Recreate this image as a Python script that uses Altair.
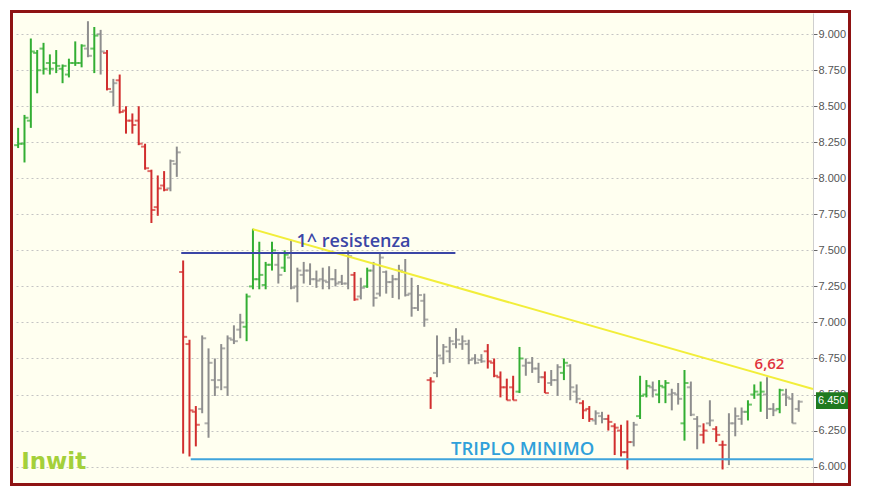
import altair as alt
import pandas as pd

# ---- OHLC data (bar order left to right) ----
high = [8.35, 8.44, 8.97, 8.89, 8.94, 8.86, 8.89, 8.79, 8.83, 8.95, 8.93, 9.09, 9.05, 9.03, 8.89, 8.69,
        8.72, 8.50, 8.45, 8.50, 8.24, 8.06, 8.02, 8.05, 8.13, 8.22,
        7.43, 6.88, 6.42, 6.91, 6.82, 6.75, 6.85, 6.91, 6.98, 7.06, 7.20, 7.65, 7.56, 7.42, 7.56, 7.48,
        7.50, 7.57, 7.38, 7.42, 7.41, 7.36, 7.38, 7.39, 7.37, 7.33, 7.50, 7.35, 7.31, 7.38, 7.42, 7.48,
        7.36, 7.33, 7.40, 7.44, 7.31, 7.26, 7.20,
        6.62, 6.91, 6.85, 6.90, 6.96, 6.91, 6.88, 6.78, 6.78, 6.85, 6.75, 6.66, 6.61, 6.63, 6.83, 6.75,
        6.76, 6.72, 6.66, 6.67, 6.71, 6.75, 6.71, 6.57, 6.46, 6.42, 6.39, 6.38, 6.36, 6.30, 6.29, 6.32,
        6.31, 6.63, 6.60, 6.59, 6.60, 6.60, 6.54, 6.58, 6.67, 6.59, 6.35, 6.30, 6.46, 6.28, 6.18, 6.37,
        6.41, 6.41, 6.46, 6.57, 6.59, 6.62, 6.44, 6.54, 6.54, 6.51, 6.46]
low = [8.21, 8.11, 8.35, 8.59, 8.72, 8.72, 8.73, 8.66, 8.70, 8.78, 8.77, 8.84, 8.73, 8.72, 8.61, 8.50,
       8.45, 8.31, 8.31, 8.23, 8.06, 7.69, 7.74, 7.91, 7.91, 8.01,
       6.09, 6.07, 6.14, 6.37, 6.20, 6.49, 6.53, 6.49, 6.85, 6.89, 6.87, 7.23, 7.23, 7.23, 7.36, 7.27,
       7.35, 7.23, 7.14, 7.27, 7.26, 7.24, 7.23, 7.23, 7.25, 7.26, 7.23, 7.15, 7.16, 7.24, 7.11, 7.18,
       7.20, 7.17, 7.16, 7.18, 7.04, 7.08, 6.97,
       6.40, 6.62, 6.71, 6.72, 6.82, 6.81, 6.71, 6.71, 6.72, 6.68, 6.62, 6.48, 6.46, 6.46, 6.51, 6.63,
       6.65, 6.58, 6.51, 6.56, 6.49, 6.60, 6.46, 6.44, 6.33, 6.31, 6.29, 6.30, 6.25, 6.08, 6.07, 5.98,
       6.14, 6.33, 6.48, 6.48, 6.44, 6.44, 6.39, 6.43, 6.18, 6.35, 6.12, 6.16, 6.28, 6.17, 5.98, 6.01,
       6.21, 6.29, 6.32, 6.47, 6.38, 6.33, 6.35, 6.37, 6.42, 6.30, 6.38]
open_ = [8.23, 8.24, 8.40, 8.87, 8.90, 8.80, 8.80, 8.76, 8.72, 8.80, 8.80, 8.90, 8.90, 9.00, 8.87, 8.60,
         8.68, 8.47, 8.40, 8.40, 8.22, 8.05, 7.80, 7.95, 7.93, 8.10,
         7.35, 6.85, 6.38, 6.40, 6.30, 6.60, 6.60, 6.55, 6.88, 6.95, 6.97, 7.25, 7.30, 7.26, 7.40, 7.40,
         7.38, 7.45, 7.25, 7.33, 7.36, 7.30, 7.30, 7.28, 7.30, 7.28, 7.27, 7.33, 7.18, 7.25, 7.36, 7.20,
         7.35, 7.28, 7.30, 7.35, 7.20, 7.10, 7.15,
         6.60, 6.65, 6.75, 6.80, 6.85, 6.85, 6.85, 6.75, 6.74, 6.80, 6.72, 6.62, 6.55, 6.55, 6.52, 6.70,
         6.72, 6.68, 6.62, 6.58, 6.60, 6.65, 6.70, 6.52, 6.44, 6.40, 6.32, 6.35, 6.33, 6.28, 6.25, 6.10,
         6.17, 6.35, 6.50, 6.55, 6.50, 6.55, 6.50, 6.50, 6.30, 6.55, 6.33, 6.22, 6.30, 6.26, 6.15, 6.05,
         6.30, 6.33, 6.38, 6.50, 6.50, 6.50, 6.40, 6.40, 6.50, 6.47, 6.40]
close = [8.24, 8.42, 8.88, 8.75, 8.76, 8.76, 8.78, 8.78, 8.80, 8.80, 8.92, 8.85, 8.99, 8.88, 8.62, 8.66,
         8.46, 8.40, 8.37, 8.24, 8.07, 7.78, 7.93, 7.92, 8.12, 8.18,
         6.90, 6.39, 6.29, 6.89, 6.72, 6.55, 6.82, 6.89, 6.87, 7.00, 7.18, 7.30, 7.33, 7.40, 7.50, 7.33,
         7.47, 7.24, 7.36, 7.36, 7.30, 7.29, 7.29, 7.30, 7.27, 7.27, 7.46, 7.16, 7.24, 7.36, 7.17, 7.45,
         7.28, 7.30, 7.36, 7.19, 7.10, 7.19, 7.02,
         6.59, 6.77, 6.83, 6.87, 6.88, 6.87, 6.74, 6.72, 6.73, 6.73, 6.63, 6.55, 6.46, 6.46, 6.75, 6.72,
         6.68, 6.62, 6.51, 6.60, 6.69, 6.72, 6.55, 6.47, 6.39, 6.33, 6.37, 6.33, 6.31, 6.27, 6.10, 6.17,
         6.29, 6.49, 6.56, 6.53, 6.56, 6.58, 6.51, 6.47, 6.58, 6.36, 6.28, 6.25, 6.32, 6.22, 6.15, 6.30,
         6.35, 6.38, 6.43, 6.52, 6.52, 6.40, 6.39, 6.53, 6.48, 6.30, 6.45]
# bar colour class per bar: g = green, r = red, n = grey
tone_seg1 = "ggggggggggg" + "ngnrn" + "rrrrrrrr" + "nn"
tone_seg2 = "rrr" + "nnnnnnn" + "ggggg" + "n" + "g" + "nnnnnnnnnn" + "r" + "n" + "g" + "nnnnnnnnn"
tone_seg3 = ("r" + "nnnnnnnn" + "rrrrr" + "g" + "nnn" + "r" + "nn" + "g" + "nn" + "rr" + "nn"
             + "rrrr" + "n" + "gg" + "n" + "gg" + "nn" + "g" + "nn" + "r" + "n" + "rr" + "nnn"
             + "ggg" + "nn" + "g" + "nnn")
tone = list(tone_seg1 + tone_seg2 + tone_seg3)

# trend lines / levels
trend_i = [36.95, 125.25]
trend_p = [7.647, 6.538]
resist_i = [25.7, 68.9]
resist_p = [7.482, 7.482]
support_i = [27.2, 125.25]
support_p = [6.05, 6.05]
tick_values = [6.0, 6.25, 6.5, 6.75, 7.0, 7.25, 7.5, 7.75, 8.0, 8.25, 8.5, 8.75, 9.0]
last_price = 6.45

n = len(high)
df = pd.DataFrame({"i": list(range(n)), "high": high, "low": low,
                   "open": open_, "close": close, "c": tone[:n]})

W, H = 800, 470
xs = alt.Scale(domain=[-0.81, 125.25], nice=False, zero=False)
ys = alt.Scale(domain=[5.886, 9.147], nice=False, zero=False)
cs = alt.Scale(domain=["g", "r", "n"], range=["#33AE33", "#D12E2E", "#8E8E8E"])
yax = alt.Axis(orient="right", values=tick_values, format=".3f", grid=True,
               gridDash=[2, 3], gridColor="#C4C4C4", gridWidth=1,
               tickSize=4, tickColor="#666666", labelFontSize=11,
               labelFont="Liberation Sans", labelColor="#555555", labelOverlap=False,
               labelPadding=1, domainColor="#CFCFCF", title="")
xax = alt.X("i:Q", scale=xs, axis=None)

base = alt.Chart(df)
bars = base.mark_rule(strokeWidth=2).encode(
    x=xax,
    y=alt.Y("low:Q", scale=ys, axis=yax),
    y2="high:Q",
    color=alt.Color("c:N", scale=cs, legend=None),
)
opens = base.mark_tick(orient="horizontal", size=4, thickness=2, xOffset=-2).encode(
    x=xax, y=alt.Y("open:Q", scale=ys, axis=yax),
    color=alt.Color("c:N", scale=cs, legend=None))
closes = base.mark_tick(orient="horizontal", size=4, thickness=2, xOffset=2).encode(
    x=xax, y=alt.Y("close:Q", scale=ys, axis=yax),
    color=alt.Color("c:N", scale=cs, legend=None))


def seg(xv, yv, color, w=2):
    return alt.Chart(pd.DataFrame({"i": xv, "p": yv})).mark_line(
        color=color, strokeWidth=w).encode(
        x=xax, y=alt.Y("p:Q", scale=ys, axis=yax))


trend = seg(trend_i, trend_p, "#F2EE3A")
resist = seg(resist_i, resist_p, "#3B46A6")
support = seg(support_i, support_p, "#3FA4DC")

labels = pd.DataFrame({
    "i": [52.85, 79.5, 118.4, 5.6],
    "p": [7.56, 6.125, 6.71, 6.03],
    "t": ["1^ resistenza", "TRIPLO MINIMO", "6,62", "Inwit"],
})


def label(k, font, size, weight, color):
    return alt.Chart(labels.iloc[[k]]).mark_text(
        font=font, fontSize=size, fontWeight=weight, color=color).encode(
        x=xax, y=alt.Y("p:Q", scale=ys, axis=yax), text="t:N")


txt_res = label(0, "Open Sans", 18, 600, "#3B46A6")
txt_sup = label(1, "Open Sans", 18.5, 600, "#2FA0DA")
txt_662 = label(2, "Open Sans", 15, 600, "#E0333E")
txt_inwit = label(3, "DejaVu Sans", 23, "bold", "#A4D03A")

lp = pd.DataFrame({"top": [last_price + 0.065], "bot": [last_price - 0.05],
                   "p": [last_price + 0.005], "t": [f"{last_price:.3f}"]})
lp_box = alt.Chart(lp).mark_rect(color="#1F7A1F").encode(
    x=alt.value(W + 3), x2=alt.value(W + 36),
    y=alt.Y("top:Q", scale=ys, axis=yax), y2="bot:Q")
lp_txt = alt.Chart(lp).mark_text(color="white", fontSize=11, font="Liberation Sans",
                                 align="left").encode(
    x=alt.value(W + 5), y=alt.Y("p:Q", scale=ys, axis=yax), text="t:N")

frame = alt.Chart(lp).mark_rect(filled=False, stroke="#8E1313", strokeWidth=3).encode(
    x=alt.value(-1.5), x2=alt.value(W + 36.5), y=alt.value(-1.5), y2=alt.value(H + 1.5))

chart = alt.layer(
    bars, opens, closes, trend, resist, support,
    txt_res, txt_sup, txt_662, txt_inwit, lp_box, lp_txt, frame
).properties(
    width=W, height=H, background="white",
    padding={"left": 2, "top": 2, "right": 2, "bottom": 2},
).configure_view(fill="#FFFFF0", stroke="transparent")

chart.save("out.html", embed_options={"renderer": "svg", "actions": False})
